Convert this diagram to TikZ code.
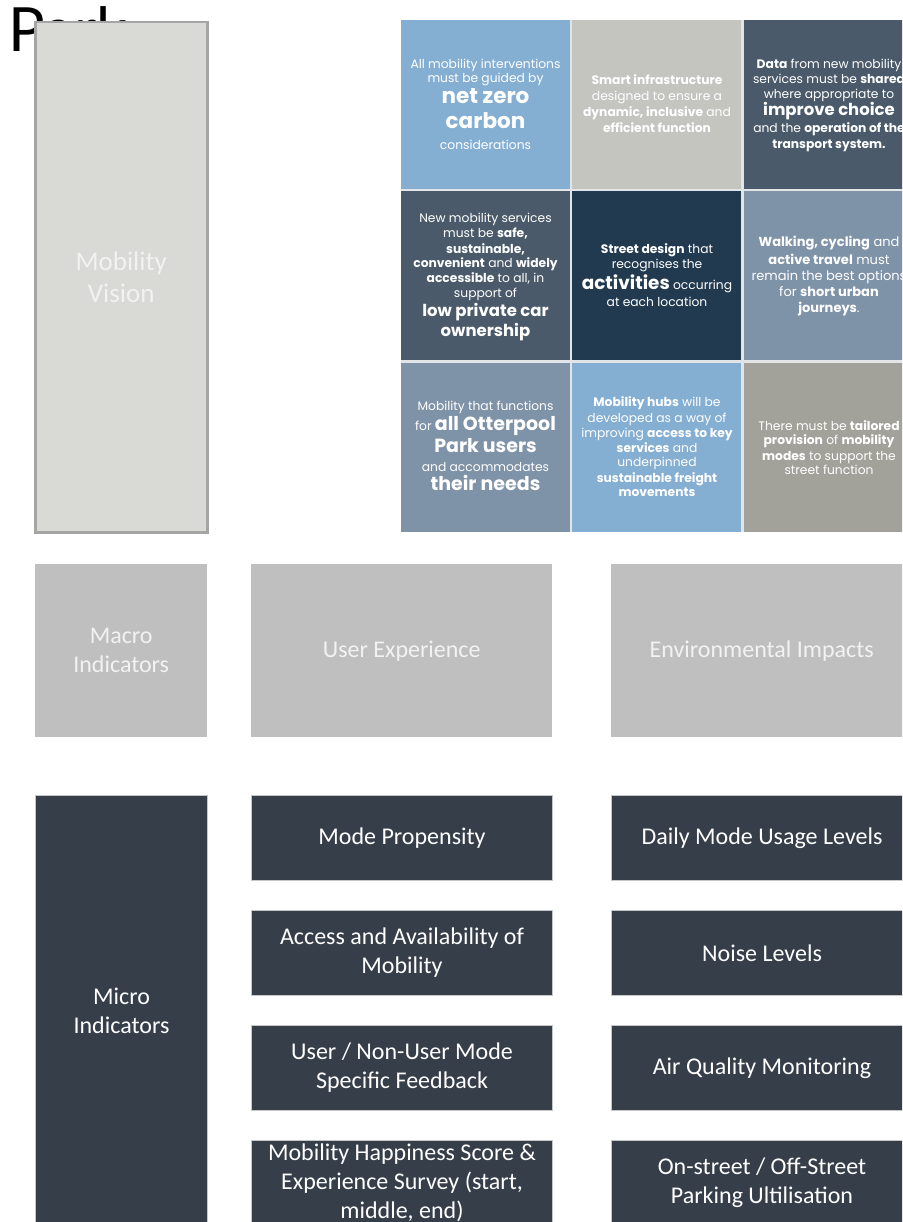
\documentclass[tikz,border=0pt]{standalone}
\usepackage{fontspec}
\setmainfont{Carlito}
\newfontfamily\tilefont{Poppins}
\newfontfamily\parkfont{Lato}

\definecolor{visionfill}{HTML}{D9D9D5}
\definecolor{visionline}{HTML}{A5A5A5}
\definecolor{macrofill}{HTML}{BFBFBF}
\definecolor{microfill}{HTML}{353E49}
\definecolor{microline}{HTML}{C4C6C8}
\definecolor{softwhite}{HTML}{F2F2F2}
\definecolor{gridgap}{HTML}{E2E5E8}
\definecolor{tileblue}{HTML}{85AFD2}
\definecolor{tilegrey}{HTML}{C5C5C0}
\definecolor{tileslate}{HTML}{4A5A6A}
\definecolor{tilenavy}{HTML}{223A50}
\definecolor{tilesteel}{HTML}{7F93A8}
\definecolor{tiletaupe}{HTML}{A3A29A}

\newcommand\tsmall{\tilefont\fontsize{12.3}{14}\selectfont}
\newcommand\tbigat[1]{\tilefont\bfseries\fontsize{#1}{#1}\selectfont}

\tikzset{
  box/.style={anchor=north west, inner sep=0pt, align=center,
    font=\fontsize{24}{29}\selectfont},
  macrobox/.style={box, fill=macrofill, text=softwhite},
  microbox/.style={box, fill=microfill, draw=microline, line width=1pt, text=white},
  tile/.style={anchor=north west, inner sep=0pt, minimum width=169pt, minimum height=169pt},
  tl/.style={inner sep=0pt, text=white, text height=0.72em, text depth=0pt, font=\tsmall},
  tlbig/.style={tl, font=\tbigat{#1}},
}

\begin{document}
\begin{tikzpicture}[x=1pt, y=-1pt]
\useasboundingbox (0,0) rectangle (902,1222);
\clip (0,0) rectangle (902,1222);

% heading word, partly covered by the vision panel
\node[anchor=base west, inner sep=0pt, font=\parkfont\fontsize{61}{61}\selectfont] (park) at (8,52) {Park};

% vision panel
\node[anchor=north west, inner sep=0pt, fill=visionfill, draw=visionline, line width=2.5pt,
      minimum width=172pt, minimum height=510pt, text=softwhite, align=center,
      font=\fontsize{27}{32}\selectfont] (vision) at (34,21) {Mobility\\Vision};

% principle tiles
\fill[gridgap] (401,20) rectangle (902,532);
\node[tile, fill=tileblue]  (t11) at (401,20)  {};
\node[tile, fill=tilegrey]  (t12) at (572,20)  {};
\node[tile, fill=tileslate, minimum width=170pt] (t13) at (744,20)  {};
\node[tile, fill=tileslate] (t21) at (401,191) {};
\node[tile, fill=tilenavy]  (t22) at (572,191) {};
\node[tile, fill=tilesteel, minimum width=170pt] (t23) at (744,191) {};
\node[tile, fill=tilesteel] (t31) at (401,363) {};
\node[tile, fill=tileblue]  (t32) at (572,363) {};
\node[tile, fill=tiletaupe, minimum width=170pt] (t33) at (744,363) {};

% tile 1,1
\node[tl]          (a1) at (485.5,64.7)  {All mobility interventions};
\node[tl]          (a2) at (485.5,79)    {must be guided by};
\node[tlbig=21.5]  (a3) at (485.5,99.7)  {net zero};
\node[tlbig=21.5]  (a4) at (485.5,124.7) {carbon};
\node[tl]          (a5) at (485.5,145.7) {considerations};
% tile 1,2
\node[tl] (b1) at (657,81.3)  {\textbf{Smart infrastructure}};
\node[tl] (b2) at (657,97)    {designed to ensure a};
\node[tl] (b3) at (657,112.7) {\textbf{dynamic, inclusive} and};
\node[tl] (b4) at (657,128.7) {\textbf{efficient function}};
% tile 1,3
\node[tl]          (c1) at (829,64.7) {\textbf{Data} from new mobility};
\node[tl]          (c2) at (829,79.7) {services must be \textbf{shared}};
\node[tl]          (c3) at (829,95)   {where appropriate to};
\node[tlbig=16.5]  (c4) at (829,112)  {improve choice};
\node[tl]          (c5) at (829,129)  {and the \textbf{operation of the}};
\node[tl]          (c6) at (829,145)  {\textbf{transport system.}};
% tile 2,1
\node[tl]          (d1) at (485.5,219.3) {New mobility services};
\node[tl]          (d2) at (485.5,234)   {must be \textbf{safe,}};
\node[tl]          (d3) at (485.5,250)   {\textbf{sustainable,}};
\node[tl]          (d4) at (485.5,264)   {\textbf{convenient} and \textbf{widely}};
\node[tl]          (d5) at (485.5,279.3) {\textbf{accessible} to all, in};
\node[tl]          (d6) at (485.5,294.3) {support of};
\node[tlbig=16.5]  (d7) at (485.5,313.3) {low private car};
\node[tlbig=16.5]  (d8) at (485.5,332.7) {ownership};
% tile 2,2
\node[tl] (e1) at (657,250)   {\textbf{Street design} that};
\node[tl] (e2) at (657,265)   {recognises the};
\node[tl] (e3) at (657,285.7) {{\tbigat{18.4}activities} occurring};
\node[tl] (e4) at (657,303)   {at each location};
% tile 2,3
\begin{scope}[tl/.append style={font=\tilefont\fontsize{13}{16}\selectfont}]
\node[tl] (f1) at (829,243.3) {\textbf{Walking, cycling} and};
\node[tl] (f2) at (829,261)   {\textbf{active travel} must};
\node[tl] (f3) at (829,277.3) {remain the best options};
\node[tl] (f4) at (829,293.3) {for \textbf{short urban}};
\node[tl] (f5) at (829,309)   {\textbf{journeys}.};
\end{scope}
% tile 3,1
\node[tl]        (g1) at (485.5,406.7) {Mobility that functions};
\node[tl]        (g2) at (485.5,426.7) {for {\tbigat{19}all Otterpool}};
\node[tlbig=19]  (g3) at (485.5,449.3) {Park users};
\node[tl]        (g4) at (485.5,467.7) {and accommodates};
\node[tlbig=19]  (g5) at (485.5,486.7) {their needs};
% tile 3,2
\node[tl] (h1) at (657,403.3) {\textbf{Mobility hubs} will be};
\node[tl] (h2) at (657,419)   {developed as a way of};
\node[tl] (h3) at (657,434)   {improving \textbf{access to key}};
\node[tl] (h4) at (657,449)   {\textbf{services} and};
\node[tl] (h5) at (657,463.3) {underpinned};
\node[tl] (h6) at (657,479)   {\textbf{sustainable freight}};
\node[tl] (h7) at (657,493.3) {\textbf{movements}};
% tile 3,3
\node[tl] (i1) at (829,426.7) {There must be \textbf{tailored}};
\node[tl] (i2) at (829,441)   {\textbf{provision} of \textbf{mobility}};
\node[tl] (i3) at (829,456.7) {\textbf{modes} to support the};
\node[tl] (i4) at (829,471)   {street function};

% macro indicators
\node[macrobox, minimum width=172pt, minimum height=173pt] (macro) at (35,564) {Macro\\Indicators};
\node[macrobox, minimum width=301pt, minimum height=173pt] (ux)    at (251,564) {User Experience};
\node[macrobox, minimum width=301pt, minimum height=173pt] (env)   at (611,564) {Environmental Impacts};

% micro indicators
\node[microbox, minimum width=172pt, minimum height=430pt] (micro) at (35,795) {Micro\\Indicators};
\node[microbox, minimum width=301pt, minimum height=85pt] (m1) at (251,795)  {Mode Propensity};
\node[microbox, minimum width=301pt, minimum height=85pt] (m2) at (251,910)  {Access and Availability of\\Mobility};
\node[microbox, minimum width=301pt, minimum height=85pt] (m3) at (251,1025) {User / Non-User Mode\\Specific Feedback};
\node[microbox, minimum width=301pt, minimum height=85pt] (m4) at (251,1140) {Mobility Happiness Score \&\\Experience Survey (start,\\middle, end)};
\node[microbox, minimum width=301pt, minimum height=85pt] (n1) at (611,795)  {Daily Mode Usage Levels};
\node[microbox, minimum width=301pt, minimum height=85pt] (n2) at (611,910)  {Noise Levels};
\node[microbox, minimum width=301pt, minimum height=85pt] (n3) at (611,1025) {Air Quality Monitoring};
\node[microbox, minimum width=301pt, minimum height=85pt] (n4) at (611,1140) {On-street / Off-Street\\Parking Ultilisation};
\end{tikzpicture}
\end{document}
